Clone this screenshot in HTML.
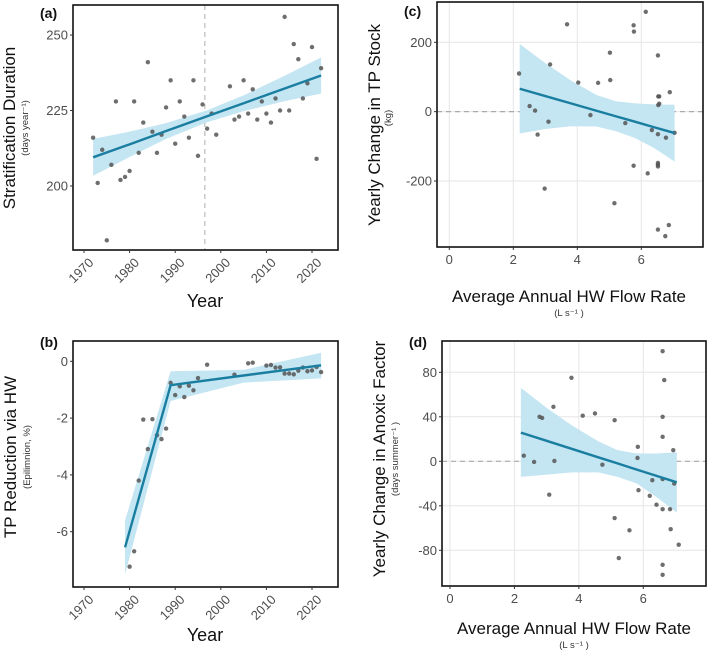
<!DOCTYPE html>
<html><head><meta charset="utf-8"><style>
body{margin:0;background:#fff}
svg{font-family:"Liberation Sans",sans-serif;display:block}
</style></head><body>
<svg id="fig" width="708" height="658" viewBox="0 0 708 658"></svg>
<script>
// ---------- data ----------
const aYears=[1972,1973,1974,1975,1976,1977,1978,1979,1980,1981,1982,1983,1984,1985,1986,1987,1988,1989,1990,1991,1992,1993,1994,1995,1996,1997,1998,1999,2002,2003,2004,2005,2006,2007,2008,2009,2010,2011,2012,2013,2014,2015,2016,2017,2018,2019,2020,2021,2022];
const aDur=[216,201,212,182,207,228,202,203,205,228,211,221,241,218,211,217,226,235,214,228,223,216,235,210,227,219,224,217,233,222,223,235,224,232,222,228,224,221,229,225,256,225,247,242,229,234,246,209,239];
const aFitX=[1972,1980,1988,1997,2005,2014,2022];
const aFit=[209.5,213.8,218.2,223.1,227.4,232.3,236.6];
const aLo=[203.4,209.6,215.6,221.1,224.8,228.1,230.6];
const aHi=[215.6,218.0,220.8,225.1,230.0,236.5,242.6];

const bYears=[1980,1981,1982,1983,1984,1985,1986,1987,1988,1989,1990,1991,1992,1993,1994,1995,1997,2003,2006,2007,2010,2011,2012,2013,2014,2015,2016,2017,2018,2019,2020,2021,2022];
const bRed=[-7.23,-6.69,-4.2,-2.05,-3.09,-2.04,-2.6,-2.74,-2.37,-0.76,-1.19,-0.88,-1.26,-0.86,-1.02,-0.59,-0.12,-0.47,-0.07,-0.05,-0.15,-0.13,-0.22,-0.21,-0.43,-0.43,-0.46,-0.33,-0.22,-0.35,-0.32,-0.2,-0.38];
const bFitX=[1979,1989,2005,2022];
const bFit=[-6.55,-0.84,-0.5,-0.14];
const bLo=[-7.5,-1.4,-0.75,-0.6];
const bHi=[-5.6,-0.35,-0.3,0.3];

const cFlow=[2.18,2.51,2.68,2.76,2.98,3.1,3.15,3.68,4.03,4.41,4.65,5.02,5.03,5.16,5.5,5.76,5.77,5.76,6.14,6.2,6.33,6.52,6.53,6.56,6.56,6.53,6.52,6.52,6.52,6.52,6.52,6.77,6.89,6.86,6.75,7.04];
const cStock=[110,16,3,-66,-222,-29,136,252,84,-10,83,170,91,-264,-33,249,231,-156,288,-178,-53,162,44,44,23,19,-65,-148,-153,-158,-340,-75,56,-327,-359,-61];
const cFitX=[2.2,3,3.8,4.6,5.2,5.8,6.4,7.04];
const cFit=[66,44.9,23.8,2.6,-13.2,-29,-44.9,-61.8];
const cLo=[-63,-50,-42,-43,-56,-76,-105,-144];
const cHi=[195,140,90,48,30,24,21,20];

const dFlow=[2.29,2.61,2.78,2.86,3.08,3.21,3.24,3.77,4.12,4.5,4.73,5.11,5.11,5.24,5.57,5.83,5.82,5.85,6.2,6.28,6.41,6.6,6.65,6.6,6.6,6.6,6.6,6.83,6.85,6.93,6.96,7.1,6.6,6.6];
const dAnox=[5,-0.6,40,39,-30,49,0.3,75,41,43,-3,37,-51,-87,-62,13,3,-26,-31,-17,-39,99,73,40,22,-16,-43,-43,-61,10,-20,-75,-93,-102];
const dFitX=[2.2,3,3.8,4.6,5.2,5.8,6.4,7.04];
const dFit=[25.8,18.4,11,3.6,-1.9,-7.5,-13,-18.9];
const dLo=[-14,-12,-10,-10,-14,-20,-32,-46];
const dHi=[66,48,32,18,10,7,7,8];

const yearTicks=[1970,1980,1990,2000,2010,2020];
const flowTicks=[0,2,4,6];
const aTicks=[200,225,250];
const bTicks=[0,-2,-4,-6];
const cTicks=[200,0,-200];
const dTicks=[80,40,0,-40,-80];

// ---------- drawing ----------
const NS="http://www.w3.org/2000/svg";
const svg=document.getElementById('fig');
function el(tag,attrs,parent,text){const e=document.createElementNS(NS,tag);for(const k in attrs)e.setAttribute(k,attrs[k]);if(text!==undefined)e.textContent=text;(parent||svg).appendChild(e);return e;}
function scale(m){return v=>m[2]+(v-m[0])/(m[1]-m[0])*(m[3]-m[2]);}

function panel(o){
  const g=el('g',{});
  
  
  const x=scale(o.xm), y=scale(o.ym);
  const clipId='clip-'+o.name;
  const cp=el('clipPath',{id:clipId},g);
  el('rect',{x:o.box[0],y:o.box[1],width:o.box[2]-o.box[0],height:o.box[3]-o.box[1]},cp);
  const inner=el('g',{'clip-path':`url(#${clipId})`},g);
  if(o.grid){
    o.xt.forEach(t=>{const l=el('line',{x1:x(t),x2:x(t),y1:o.box[1],y2:o.box[3],stroke:'#e6e6e6','stroke-width':1},inner);});
    o.yt.forEach(t=>{const l=el('line',{x1:o.box[0],x2:o.box[2],y1:y(t),y2:y(t),stroke:'#e6e6e6','stroke-width':1},inner);});
  }
  if(o.hline!==undefined){const l=el('line',{x1:o.box[0],x2:o.box[2],y1:y(o.hline),y2:y(o.hline),stroke:'#aaa','stroke-width':1.2,'stroke-dasharray':'5,4'},inner);}
  if(o.vline!==undefined){const l=el('line',{x1:x(o.vline),x2:x(o.vline),y1:o.box[1],y2:o.box[3],stroke:'#bbb','stroke-width':1.2,'stroke-dasharray':'5,4'},inner);}
  let p=o.fx.map((v,i)=>x(v)+','+y(o.hi[i])).join(' ')+' '+o.fx.slice().reverse().map((v,i)=>x(v)+','+y(o.lo[o.fx.length-1-i])).join(' ');
  const band=el('polygon',{points:p,fill:'#c4e5f2'},inner);
  
  o.px.forEach((v,i)=>{const c=el('circle',{cx:x(v),cy:y(o.py[i]),r:2.2,fill:'#555','fill-opacity':0.85},inner);});
  const fl=el('polyline',{points:o.fx.map((v,i)=>x(v)+','+y(o.f[i])).join(' '),fill:'none',stroke:'#1a7ea0','stroke-width':2.4},inner);
  
  const bx=el('rect',{x:o.box[0],y:o.box[1],width:o.box[2]-o.box[0],height:o.box[3]-o.box[1],fill:'none',stroke:'#111','stroke-width':1.6},g);
  
  o.yt.forEach(t=>{
    el('line',{x1:o.box[0]-3,x2:o.box[0],y1:y(t),y2:y(t),stroke:'#333'},g);
    const tx=el('text',{x:o.box[0]-5,y:y(t)+4.5,'text-anchor':'end','font-size':13,fill:'#4d4d4d'},g,String(t));
    
  });
  o.xt.forEach(t=>{
    el('line',{x1:x(t),x2:x(t),y1:o.box[3],y2:o.box[3]+3,stroke:'#333'},g);
    let tx;
    if(o.rot){tx=el('text',{x:x(t)+3,y:o.box[3]+6,'text-anchor':'end','font-size':13,fill:'#4d4d4d',transform:`rotate(-45 ${x(t)+3} ${o.box[3]+6})`,dy:'0.8em'},g,String(t));}
    else tx=el('text',{x:x(t),y:o.box[3]+17,'text-anchor':'middle','font-size':13,fill:'#4d4d4d'},g,String(t));
    
  });
  return g;
}
function txt(a,name,t){const e=el('text',a,svg,t);return e;}

panel({name:'panel-a',box:[73,5,338,250],xm:[1970,2020,84,312],ym:[200,250,186,35],xt:yearTicks,yt:aTicks,rot:true,vline:1996.5,px:aYears,py:aDur,fx:aFitX,f:aFit,lo:aLo,hi:aHi});
panel({name:'panel-b',box:[73,341,338,587],xm:[1970,2020,84,312],ym:[0,-6,361.3,531.7],xt:yearTicks,yt:bTicks,rot:true,px:bYears,py:bRed,fx:bFitX,f:bFit,lo:bLo,hi:bHi});
panel({name:'panel-c',box:[437,2,703,247],xm:[0,6,449.3,641.3],ym:[200,-200,42.3,181],xt:flowTicks,yt:cTicks,grid:true,hline:0,px:cFlow,py:cStock,fx:cFitX,f:cFit,lo:cLo,hi:cHi});
panel({name:'panel-d',box:[442,341,706,586],xm:[0,6,450,643.3],ym:[80,-80,372.3,550.3],xt:flowTicks,yt:dTicks,grid:true,hline:0,px:dFlow,py:dAnox,fx:dFitX,f:dFit,lo:dLo,hi:dHi});

// panel labels
txt({x:40,y:18,'font-size':14,'font-weight':'bold',fill:'#111'},'panel-label-a','(a)');
txt({x:40,y:347,'font-size':14,'font-weight':'bold',fill:'#111'},'panel-label-b','(b)');
txt({x:404,y:16,'font-size':14,'font-weight':'bold',fill:'#111'},'panel-label-c','(c)');
txt({x:409,y:347,'font-size':14,'font-weight':'bold',fill:'#111'},'panel-label-d','(d)');

// axis titles
txt({x:0,y:0,'font-size':17,'text-anchor':'middle',fill:'#111',transform:'translate(15,128) rotate(-90)'},'y-axis-title-a','Stratification Duration');
txt({x:0,y:0,'font-size':9.5,'text-anchor':'middle',fill:'#333',transform:'translate(28,128) rotate(-90)'},'y-axis-subtitle-a','(days year⁻¹)');
txt({x:205,y:307,'font-size':18,'text-anchor':'middle',fill:'#111'},'x-axis-title-a','Year');

txt({x:0,y:0,'font-size':17,'text-anchor':'middle',fill:'#111',transform:'translate(16,457) rotate(-90)'},'y-axis-title-b','TP Reduction via HW');
txt({x:0,y:0,'font-size':9.5,'text-anchor':'middle',fill:'#333',transform:'translate(30,457) rotate(-90)'},'y-axis-subtitle-b','(Epilimnion, %)');
txt({x:205,y:641,'font-size':18,'text-anchor':'middle',fill:'#111'},'x-axis-title-b','Year');

txt({x:0,y:0,'font-size':17,'text-anchor':'middle',fill:'#111',transform:'translate(380,125) rotate(-90)'},'y-axis-title-c','Yearly Change in TP Stock');
txt({x:0,y:0,'font-size':9.5,'text-anchor':'middle',fill:'#333',transform:'translate(391,118) rotate(-90)'},'y-axis-subtitle-c','(kg)');
txt({x:569,y:302,'font-size':17,'text-anchor':'middle',fill:'#111'},'x-axis-title-c','Average Annual HW Flow Rate');
txt({x:569,y:316,'font-size':9.5,'text-anchor':'middle',fill:'#333'},'x-axis-subtitle-c','(L s⁻¹ )');

txt({x:0,y:0,'font-size':17,'text-anchor':'middle',fill:'#111',transform:'translate(385,459) rotate(-90)'},'y-axis-title-d','Yearly Change in Anoxic Factor');
txt({x:0,y:0,'font-size':9.5,'text-anchor':'middle',fill:'#333',transform:'translate(398,459) rotate(-90)'},'y-axis-subtitle-d','(days summer⁻¹ )');
txt({x:574,y:634,'font-size':17,'text-anchor':'middle',fill:'#111'},'x-axis-title-d','Average Annual HW Flow Rate');
txt({x:574,y:648,'font-size':9.5,'text-anchor':'middle',fill:'#333'},'x-axis-subtitle-d','(L s⁻¹ )');
</script>
</body></html>
